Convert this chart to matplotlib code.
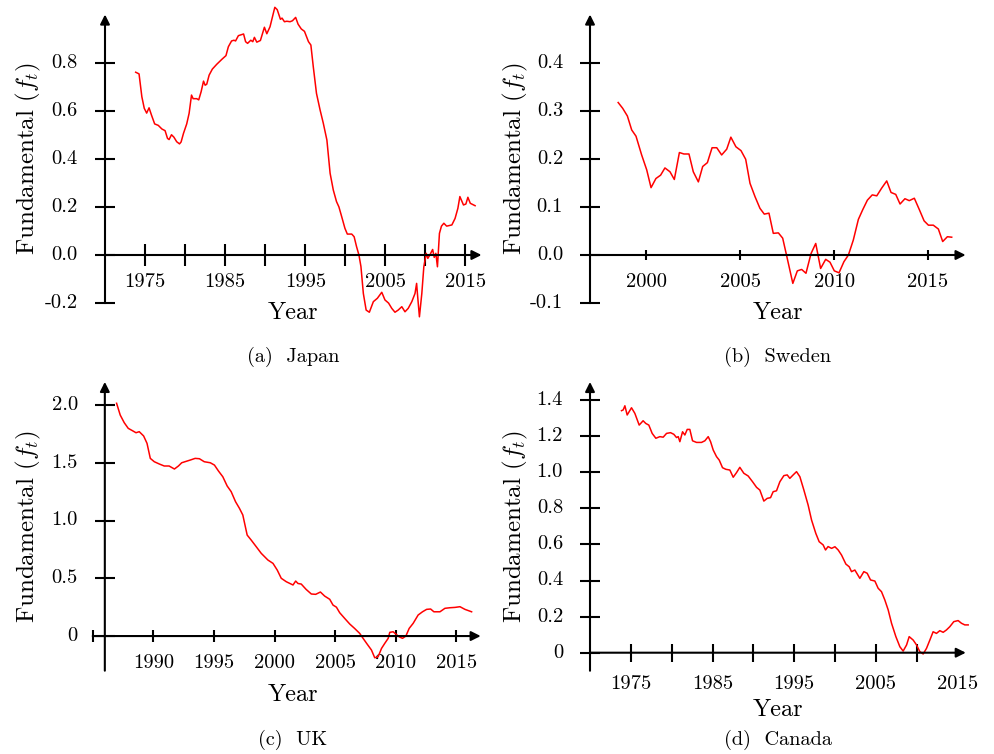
import matplotlib
matplotlib.use("Agg")
import matplotlib.pyplot as plt

plt.rcParams["font.family"] = "serif"
plt.rcParams["font.serif"] = ["cmr10"]
plt.rcParams["mathtext.fontset"] = "cm"
plt.rcParams["axes.unicode_minus"] = False

# ---- data ----
japan_year = [1973.83, 1974.25, 1974.6, 1974.9, 1975.2, 1975.5, 1975.8, 1976.2, 1976.65, 1977.1,
              1977.5, 1977.8, 1978.0, 1978.3, 1978.6, 1978.95, 1979.3, 1979.5, 1979.8, 1980.2,
              1980.5, 1980.8, 1981.0, 1981.45, 1981.7, 1982.0, 1982.3, 1982.5, 1982.7, 1983.0,
              1983.4, 1983.95, 1984.6, 1985.1, 1985.4, 1985.8, 1986.1, 1986.3, 1986.65, 1987.3,
              1987.55, 1987.8, 1988.2, 1988.45, 1988.65, 1988.95, 1989.4, 1989.9, 1990.2, 1990.6,
              1991.2, 1991.5, 1991.9, 1992.1, 1992.4, 1992.7, 1993.1, 1993.4, 1993.8, 1994.1,
              1994.5, 1994.9, 1995.4, 1995.7, 1996.0, 1996.4, 1996.85, 1997.25, 1997.7, 1998.1,
              1998.5, 1998.9, 1999.2, 1999.55, 1999.95, 2000.25, 2000.8, 2001.1, 2001.4, 2001.7,
              2001.95, 2002.25, 2002.6, 2003.0, 2003.5, 2004.0, 2004.55, 2004.95, 2005.4, 2005.8,
              2006.2, 2006.6, 2007.05, 2007.45, 2007.85, 2008.3, 2008.7, 2008.9, 2009.0, 2009.25,
              2009.55, 2009.8, 2010.1, 2010.3, 2010.55, 2010.9, 2011.1, 2011.3, 2011.5, 2011.75,
              2012.0, 2012.3, 2012.65, 2013.3, 2013.7, 2014.05, 2014.3, 2014.75, 2015.05, 2015.3,
              2015.6, 2015.9, 2016.2]
japan_val = [0.76, 0.753, 0.658, 0.61, 0.59, 0.612, 0.582, 0.545, 0.539, 0.524,
             0.517, 0.485, 0.48, 0.50, 0.49, 0.471, 0.462, 0.47, 0.506, 0.545,
             0.589, 0.665, 0.65, 0.65, 0.645, 0.679, 0.723, 0.706, 0.71, 0.748,
             0.773, 0.793, 0.814, 0.829, 0.866, 0.89, 0.893, 0.89, 0.912, 0.919,
             0.887, 0.88, 0.893, 0.887, 0.905, 0.885, 0.892, 0.947, 0.92, 0.949,
             1.03, 1.02, 0.98, 0.985, 0.97, 0.972, 0.97, 0.974, 0.988, 0.96,
             0.94, 0.93, 0.887, 0.873, 0.783, 0.672, 0.603, 0.548, 0.478, 0.34,
             0.27, 0.222, 0.2, 0.159, 0.111, 0.087, 0.087, 0.076, 0.035, 0.0,
             -0.048, -0.16, -0.229, -0.238, -0.194, -0.18, -0.155, -0.187, -0.2, -0.222,
             -0.238, -0.229, -0.215, -0.236, -0.222, -0.194, -0.16, -0.118, -0.16, -0.257,
             -0.16, -0.049, 0.007, -0.014, 0.0, 0.023, -0.01, 0.007, -0.049, 0.09,
             0.12, 0.132, 0.12, 0.125, 0.152, 0.194, 0.243, 0.208, 0.212, 0.24,
             0.215, 0.21, 0.205]

sweden_year = [1998.5, 1998.74, 1998.99, 1999.22, 1999.45, 1999.75, 2000.02, 2000.25, 2000.51, 2000.76,
               2000.99, 2001.26, 2001.49, 2001.76, 2002.0, 2002.27, 2002.5, 2002.77, 2003.0, 2003.25,
               2003.5, 2003.75, 2004.01, 2004.28, 2004.5, 2004.77, 2005.04, 2005.29, 2005.52, 2005.79,
               2006.05, 2006.28, 2006.53, 2006.76, 2007.03, 2007.26, 2007.48, 2007.8, 2008.04, 2008.27,
               2008.5, 2008.77, 2009.02, 2009.28, 2009.55, 2009.78, 2010.01, 2010.26, 2010.52, 2010.76,
               2011.02, 2011.29, 2011.52, 2011.77, 2012.03, 2012.27, 2012.53, 2012.8, 2013.03, 2013.28,
               2013.51, 2013.77, 2014.0, 2014.27, 2014.54, 2014.79, 2015.02, 2015.28, 2015.55, 2015.78,
               2016.03, 2016.26]
sweden_val = [0.317, 0.305, 0.289, 0.26, 0.247, 0.208, 0.177, 0.14, 0.159, 0.166,
              0.181, 0.173, 0.157, 0.213, 0.21, 0.21, 0.173, 0.152, 0.184, 0.192,
              0.223, 0.223, 0.208, 0.22, 0.245, 0.225, 0.217, 0.199, 0.149, 0.121,
              0.097, 0.085, 0.087, 0.045, 0.046, 0.035, -0.003, -0.059, -0.033, -0.03,
              -0.038, 0.003, 0.024, -0.028, -0.009, -0.015, -0.033, -0.037, -0.014, 0.0,
              0.031, 0.074, 0.094, 0.114, 0.125, 0.123, 0.139, 0.154, 0.13, 0.126,
              0.106, 0.117, 0.113, 0.118, 0.094, 0.071, 0.062, 0.062, 0.054, 0.028,
              0.038, 0.037]

uk_year = [1986.97, 1987.27, 1987.6, 1987.93, 1988.29, 1988.57, 1988.84, 1989.2, 1989.48, 1989.75,
           1990.08, 1990.5, 1990.9, 1991.3, 1991.74, 1992.07, 1992.34, 1992.7, 1993.06, 1993.45,
           1993.8, 1994.2, 1994.7, 1995.04, 1995.37, 1995.73, 1996.09, 1996.42, 1996.78, 1997.1,
           1997.38, 1997.74, 1998.07, 1998.49, 1998.9, 1999.45, 1999.87, 2000.22, 2000.55, 2000.97,
           2001.52, 2001.74, 2001.93, 2002.2, 2002.6, 2003.03, 2003.39, 2003.78, 2004.13, 2004.55,
           2004.82, 2005.1, 2005.37, 2005.78, 2006.2, 2006.6, 2007.02, 2007.3, 2007.63, 2007.99,
           2008.26, 2008.54, 2008.82, 2009.09, 2009.37, 2009.5, 2009.78, 2010.0, 2010.27, 2010.55,
           2010.83, 2011.1, 2011.43, 2011.84, 2012.2, 2012.54, 2012.87, 2013.14, 2013.64, 2014.05,
           2014.46, 2014.88, 2015.29, 2015.7, 2016.25]
uk_val = [2.015, 1.913, 1.847, 1.798, 1.777, 1.76, 1.769, 1.732, 1.668, 1.538,
          1.509, 1.489, 1.472, 1.472, 1.446, 1.472, 1.5, 1.512, 1.524, 1.538,
          1.535, 1.509, 1.5, 1.48, 1.429, 1.379, 1.299, 1.25, 1.163, 1.106,
          1.048, 0.874, 0.831, 0.773, 0.716, 0.658, 0.629, 0.571, 0.5, 0.47,
          0.442, 0.476, 0.455, 0.45, 0.404, 0.364, 0.361, 0.381, 0.346, 0.318,
          0.268, 0.25, 0.202, 0.153, 0.104, 0.066, 0.023, -0.02, -0.069, -0.121,
          -0.188, -0.179, -0.107, -0.063, -0.02, 0.032, 0.037, 0.017, -0.006, -0.02,
          0.0, 0.066, 0.11, 0.182, 0.21, 0.231, 0.234, 0.21, 0.21, 0.24,
          0.245, 0.248, 0.254, 0.231, 0.21]

canada_year = [1973.86, 1974.06, 1974.27, 1974.55, 1975.08, 1975.49, 1976.02, 1976.5, 1976.83, 1977.2,
               1977.61, 1978.06, 1978.55, 1978.96, 1979.37, 1979.86, 1980.26, 1980.59, 1980.8, 1981.0,
               1981.33, 1981.61, 1981.9, 1982.22, 1982.55, 1983.04, 1983.65, 1984.06, 1984.47, 1984.76,
               1985.08, 1985.49, 1985.82, 1986.22, 1986.63, 1987.12, 1987.53, 1987.94, 1988.34, 1988.83,
               1989.36, 1989.9, 1990.39, 1990.79, 1991.28, 1991.69, 1992.1, 1992.42, 1992.83, 1993.24,
               1993.73, 1994.14, 1994.46, 1994.87, 1995.28, 1995.69, 1996.18, 1996.7, 1997.12, 1997.64,
               1998.05, 1998.54, 1998.83, 1999.14, 1999.57, 1999.98, 2000.38, 2000.79, 2001.32, 2001.73,
               2002.01, 2002.42, 2003.03, 2003.52, 2003.93, 2004.34, 2004.87, 2005.27, 2005.68, 2006.09,
               2006.5, 2006.91, 2007.44, 2007.93, 2008.33, 2008.75, 2009.07, 2009.56, 2009.97, 2010.37,
               2010.78, 2011.19, 2011.6, 2012.0, 2012.41, 2012.82, 2013.23, 2013.63, 2014.04, 2014.53,
               2015.06, 2015.47, 2015.88, 2016.29]
canada_val = [1.341, 1.345, 1.368, 1.317, 1.357, 1.326, 1.261, 1.285, 1.27, 1.261,
              1.215, 1.188, 1.197, 1.194, 1.215, 1.219, 1.21, 1.192, 1.197, 1.169,
              1.224, 1.206, 1.237, 1.237, 1.174, 1.165, 1.165, 1.174, 1.197, 1.169,
              1.123, 1.086, 1.067, 1.025, 1.016, 1.012, 0.972, 0.998, 1.027, 0.994,
              0.979, 0.947, 0.916, 0.901, 0.84, 0.855, 0.859, 0.892, 0.897, 0.947,
              0.981, 0.985, 0.966, 0.985, 1.003, 0.975, 0.901, 0.818, 0.735, 0.661,
              0.615, 0.597, 0.569, 0.588, 0.578, 0.587, 0.569, 0.541, 0.491, 0.476,
              0.449, 0.458, 0.412, 0.449, 0.44, 0.403, 0.397, 0.357, 0.338, 0.292,
              0.237, 0.163, 0.089, 0.033, 0.009, 0.043, 0.089, 0.07, 0.043, 0.006,
              -0.007, 0.024, 0.07, 0.116, 0.107, 0.122, 0.113, 0.126, 0.144, 0.172,
              0.178, 0.163, 0.154, 0.154]

W, H = 995, 754
fig = plt.figure(figsize=(W / 100, H / 100), dpi=100)
PX = 72 / 100  # points per pixel


def fpos(x, y):
    return x / W, 1 - y / H


def panel(box, xlim, ylim, yaxis_x, xticks, xlabels, yticks, ylabels,
          xtick_px, xpad_px, xs, ys, ylab_xy, year_xy, cap_xy, caption, xstart=None):
    left, right, top, bottom = box
    ax = fig.add_axes([left / W, 1 - bottom / H, (right - left) / W, (bottom - top) / H])
    ax.set_xlim(xlim)
    ax.set_ylim(ylim)
    ax.patch.set_visible(False)
    ax.plot(xs, ys, color="#ff0000", lw=1.1, clip_on=False, zorder=3)

    for s in ax.spines.values():
        s.set_visible(False)
    ax.spines["left"].set_position(("data", yaxis_x))
    ax.spines["bottom"].set_position(("data", 0))
    ax.xaxis.set_ticks_position("bottom")
    ax.yaxis.set_ticks_position("left")

    arrow = dict(arrowstyle="-|>", lw=1.5, color="black", mutation_scale=14, shrinkA=0, shrinkB=0)
    x0 = xlim[0] if xstart is None else xstart
    ax.annotate("", xy=(xlim[1], 0), xytext=(x0, 0), arrowprops=arrow, annotation_clip=False)
    ax.annotate("", xy=(yaxis_x, ylim[1]), xytext=(yaxis_x, ylim[0]), arrowprops=arrow,
                annotation_clip=False)

    ax.set_xticks(xticks, xlabels)
    ax.set_yticks(yticks, ylabels)
    ax.tick_params(axis="x", direction="inout", length=xtick_px * PX, width=1.5,
                   pad=xpad_px * PX, labelsize=14.8)
    ax.tick_params(axis="y", direction="inout", length=20 * PX, width=1.5,
                   pad=17 * PX, labelsize=14.8)
    for lab in ax.get_yticklabels():
        lab.set_verticalalignment("center")

    fig.text(*fpos(*ylab_xy), r"Fundamental ($f_t$)", rotation=90, ha="center", va="center",
             fontsize=18)
    fig.text(*fpos(*year_xy), "Year", ha="center", va="center", fontsize=17.5)
    fig.text(*fpos(*cap_xy), caption, ha="center", va="center", fontsize=14.6)
    return ax


# (a) Japan
panel((105, 481.5, 14.5, 303.1), (1970, 2017), (-0.2, 1.0), 1970,
      [1975, 1980, 1985, 1990, 1995, 2000, 2005, 2010, 2015],
      ["1975", "", "1985", "", "1995", "", "2005", "", "2015"],
      [-0.2, 0.0, 0.2, 0.4, 0.6, 0.8], ["-0.2", "0.0", "0.2", "0.4", "0.6", "0.8"],
      23, 6.5, japan_year, japan_val, (28, 159), (293, 313), (293, 357), "(a)  Japan")

# (b) Sweden
panel((590, 965.6, 14.5, 303.1), (1997, 2017), (-0.1, 0.5), 1997,
      [2000, 2005, 2010, 2015], ["2000", "2005", "2010", "2015"],
      [-0.1, 0.0, 0.1, 0.2, 0.3, 0.4], ["-0.1", "0.0", "0.1", "0.2", "0.3", "0.4"],
      9.5, 13.3, sweden_year, sweden_val, (515, 159), (778, 313), (778, 357), "(b)  Sweden")

# (c) UK
panel((92.7, 480.7, 381.9, 670.7), (1985, 2017), (-0.3, 2.2), 1986,
      [1985, 1990, 1995, 2000, 2005, 2010, 2015], ["", "1990", "1995", "2000", "2005", "2010", "2015"],
      [0, 0.5, 1.0, 1.5, 2.0], ["0", "0.5", "1.0", "1.5", "2.0"],
      12, 12, uk_year, uk_val, (28, 527), (293, 695), (293, 740), "(c)  UK")

# (d) Canada
ax_d = panel((590, 965.8, 381.95, 670.75), (1970, 2016), (-0.1, 1.5), 1970,
             [1975, 1980, 1985, 1990, 1995, 2000, 2005, 2010, 2015],
             ["1975", "", "1985", "", "1995", "", "2005", "", "2015"],
             [0, 0.2, 0.4, 0.6, 0.8, 1.0, 1.2, 1.4], ["0", "0.2", "0.4", "0.6", "0.8", "1.0", "1.2", "1.4"],
             18, 13, canada_year, canada_val, (515, 527), (778, 710), (778, 740), "(d)  Canada")
ax_d.xaxis.get_major_ticks()[-1].tick1line.set_visible(False)

fig.savefig("out.png", dpi=100)
